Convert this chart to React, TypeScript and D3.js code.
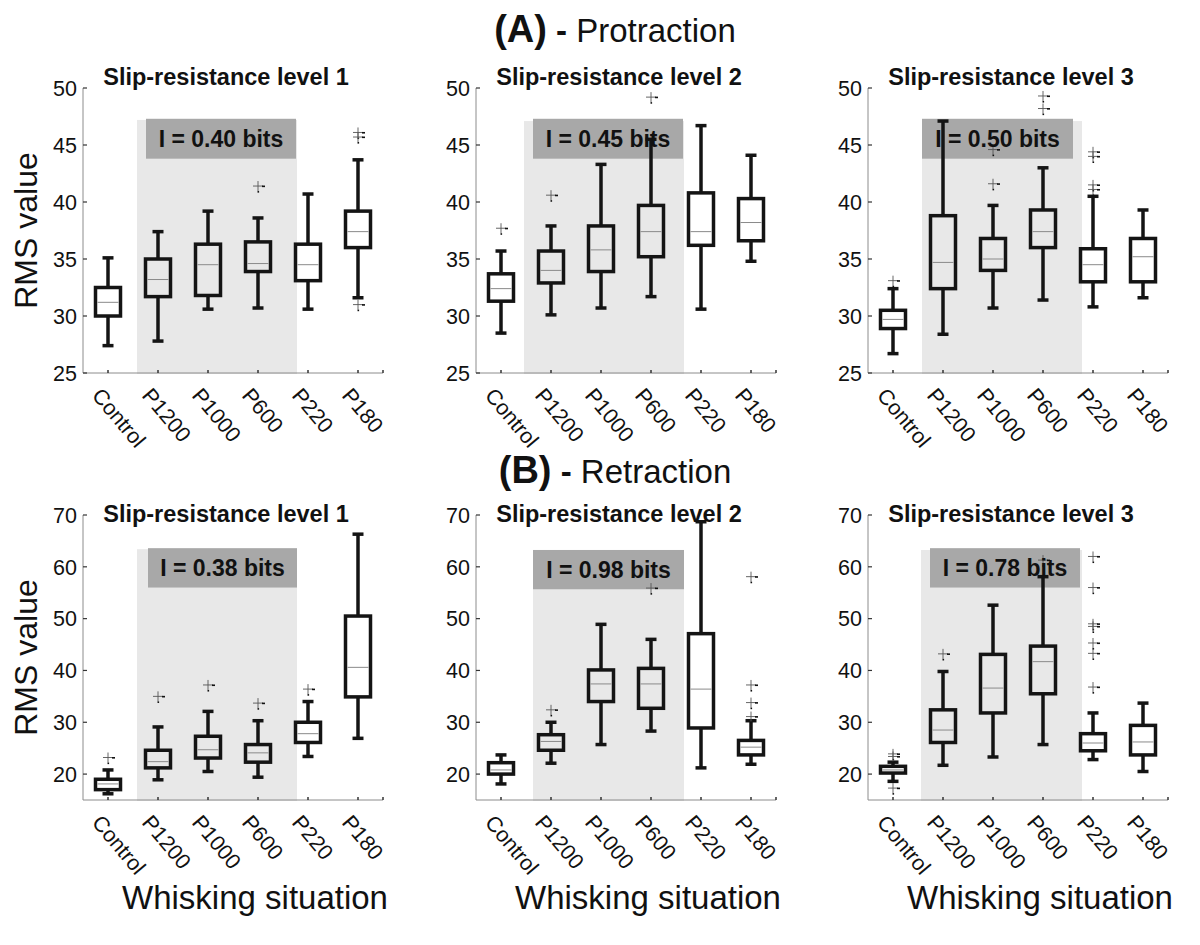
import React from "react";
import * as d3 from "d3";

// ---------- DATA ----------
const categories = ["Control", "P1200", "P1000", "P600", "P220", "P180"];
const protractionTicks = [25, 30, 35, 40, 45, 50];
const retractionTicks = [20, 30, 40, 50, 60, 70];
const panelTitles = ["Slip-resistance level 1", "Slip-resistance level 2", "Slip-resistance level 3"];

// each entry: [lower whisker, Q1, median, Q3, upper whisker]
const protractionL1 = [
  [27.4, 30.0, 31.2, 32.5, 35.1],
  [27.8, 31.7, 33.2, 35.0, 37.4],
  [30.6, 31.8, 34.5, 36.3, 39.2],
  [30.7, 33.9, 34.6, 36.5, 38.6],
  [30.6, 33.1, 34.5, 36.3, 40.7],
  [31.6, 36.0, 37.4, 39.2, 43.7],
];
const protractionL1Out = [[], [], [], [41.4], [], [46.1, 45.7, 31.0]];

const protractionL2 = [
  [28.5, 31.3, 32.4, 33.7, 35.7],
  [30.1, 32.9, 34.0, 35.7, 37.9],
  [30.7, 33.9, 35.8, 37.9, 43.3],
  [31.7, 35.2, 37.4, 39.7, 45.5],
  [30.6, 36.2, 37.4, 40.8, 46.7],
  [34.8, 36.6, 38.2, 40.3, 44.1],
];
const protractionL2Out = [[37.7], [40.6], [], [49.2], [], []];

const protractionL3 = [
  [26.7, 28.9, 29.7, 30.5, 32.4],
  [28.4, 32.4, 34.7, 38.8, 47.1],
  [30.7, 34.0, 35.0, 36.8, 39.7],
  [31.4, 36.0, 37.4, 39.3, 43.0],
  [30.8, 33.0, 34.5, 35.9, 40.5],
  [31.6, 33.0, 35.2, 36.8, 39.3],
];
const protractionL3Out = [[33.1], [], [44.6, 41.6], [49.3, 48.2], [44.4, 44.0, 41.5, 41.1], []];

const retractionL1 = [
  [16.2, 17.0, 18.1, 19.0, 20.8],
  [18.9, 21.2, 22.4, 24.6, 29.1],
  [20.5, 23.1, 24.7, 27.3, 32.1],
  [19.4, 22.3, 24.1, 25.7, 30.3],
  [23.4, 26.1, 27.8, 30.0, 34.0],
  [26.9, 34.9, 40.6, 50.5, 66.3],
];
const retractionL1Out = [[23.2], [35.0], [37.2], [33.7], [36.4], []];

const retractionL2 = [
  [18.1, 20.0, 20.8, 22.2, 23.7],
  [22.1, 24.6, 26.3, 27.6, 30.0],
  [25.7, 34.0, 37.4, 40.1, 48.9],
  [28.3, 32.7, 37.4, 40.4, 46.0],
  [21.2, 28.9, 36.4, 47.1, 68.7],
  [21.9, 23.7, 25.2, 26.5, 30.3],
];
const retractionL2Out = [[], [32.4], [], [55.9], [], [58.1, 37.2, 33.8, 31.1]];

const retractionL3 = [
  [18.6, 20.2, 20.8, 21.5, 22.3],
  [21.7, 26.1, 28.5, 32.4, 39.8],
  [23.3, 31.8, 36.6, 43.1, 52.6],
  [25.7, 35.5, 41.7, 44.7, 58.1],
  [22.8, 24.5, 26.0, 27.8, 31.8],
  [20.5, 23.7, 26.2, 29.4, 33.7],
];
const retractionL3Out = [[23.9, 23.4, 17.3], [43.2], [], [61.3], [62.0, 56.0, 49.0, 48.5, 45.3, 43.3, 36.8], []];

const protractionInfo = ["I = 0.40 bits", "I = 0.45 bits", "I = 0.50 bits"];
const retractionInfo = ["I = 0.38 bits", "I = 0.98 bits", "I = 0.78 bits"];

// shaded region (category units / value units): [xStart, xEnd, top]
const protractionShade = [[1.58, 4.78, 47.2], [1.46, 4.66, 47.1], [1.58, 4.78, 47.1]];
const retractionShade = [[1.58, 4.78, 63.4], [1.64, 4.66, 63.25], [1.56, 4.78, 63.25]];
// info box: [xStart, xEnd, top, bottom]
const protractionInfoBox = [[1.76, 4.76, 47.3, 43.8], [1.64, 4.64, 47.3, 43.8], [1.58, 4.6, 47.3, 43.8]];
const retractionInfoBox = [[1.8, 4.78, 63.6, 56.0], [1.64, 4.66, 63.25, 55.67], [1.74, 4.74, 63.6, 56.0]];

// ---------- LAYOUT ----------
const FONT = "'Liberation Sans', Arial, Helvetica, sans-serif";
const panelLefts = [83, 476, 868];
const PANEL_W = 300;

type PanelProps = {
  left: number;
  top: number;
  bottom: number;
  domain: [number, number];
  ticks: number[];
  stats: number[][];
  outliers: number[][];
  shade: number[];
  infoBox: number[];
  info: string;
  title: string;
  titleY: number;
  ylabel: boolean;
  xlabel: boolean;
};

function Panel(p: PanelProps) {
  const x = d3.scaleLinear().domain([0.5, categories.length + 0.5]).range([p.left, p.left + PANEL_W]);
  const y = d3.scaleLinear().domain(p.domain).range([p.bottom, p.top]);
  const boxW = x(1.5) - x(1);
  const capW = 11;
  const sw = 3.5;
  const dark = "#141414";
  return (
    <g>
      {/* shading */}
      <rect
        x={x(p.shade[0])}
        y={y(p.shade[2])}
        width={x(p.shade[1]) - x(p.shade[0])}
        height={y(p.domain[0]) - y(p.shade[2]) + 1}
        fill="#e8e8e8"
      />
      <rect
        x={x(p.infoBox[0])}
        y={y(p.infoBox[2])}
        width={x(p.infoBox[1]) - x(p.infoBox[0])}
        height={y(p.infoBox[3]) - y(p.infoBox[2])}
        fill="#a8a8a8"
      />
      {/* axes */}
      <line x1={p.left} x2={p.left + PANEL_W} y1={p.bottom} y2={p.bottom} stroke="#8c8c8c" strokeWidth={1} />
      <line x1={p.left} x2={p.left} y1={p.bottom} y2={p.top} stroke="#8c8c8c" strokeWidth={1} />
      {p.ticks.map((t) => (
        <g key={"yt" + t}>
          <line x1={p.left} x2={p.left + 4} y1={y(t)} y2={y(t)} stroke="#333" strokeWidth={1.2} />
          <text x={p.left - 6} y={y(t)} dy="0.36em" textAnchor="end" fontSize={21.5} fontFamily={FONT} fill="#111">
            {t}
          </text>
        </g>
      ))}
      {categories.map((c, i) => (
        <line key={"xt" + c} x1={x(i + 1)} x2={x(i + 1)} y1={p.bottom} y2={p.bottom - 3} stroke="#333" strokeWidth={1.5} />
      ))}
      <line x1={x(6.5)} x2={x(6.5)} y1={p.bottom} y2={p.bottom - 3} stroke="#333" strokeWidth={1.5} />
      {categories.map((c, i) => {
        const ax = x(i + 1) - 17;
        const ay = p.bottom + 23;
        return (
          <text
            key={"xl" + c}
            x={ax}
            y={ay}
            transform={`rotate(50 ${ax} ${ay})`}
            fontSize={21.5}
            fontFamily={FONT}
            fill="#111"
          >
            {c}
          </text>
        );
      })}
      {/* boxplots */}
      {p.stats.map((s, i) => {
        const cx = x(i + 1);
        const [lo, q1, med, q3, hi] = s;
        return (
          <g key={"b" + i}>
            <line x1={cx} x2={cx} y1={y(q3)} y2={y(hi)} stroke={dark} strokeWidth={sw} />
            <line x1={cx} x2={cx} y1={y(q1)} y2={y(lo)} stroke={dark} strokeWidth={sw} />
            <line x1={cx - capW / 2} x2={cx + capW / 2} y1={y(hi)} y2={y(hi)} stroke={dark} strokeWidth={sw} />
            <line x1={cx - capW / 2} x2={cx + capW / 2} y1={y(lo)} y2={y(lo)} stroke={dark} strokeWidth={sw} />
            <rect
              x={cx - boxW / 2}
              y={y(q3)}
              width={boxW}
              height={y(q1) - y(q3)}
              fill="none"
              stroke={dark}
              strokeWidth={sw}
            />
            <line x1={cx - boxW / 2 + 2} x2={cx + boxW / 2 - 2} y1={y(med)} y2={y(med)} stroke="#8a8a8a" strokeWidth={1} />
            {p.outliers[i].map((o, k) => (
              <g key={"o" + k}>
                <path
                  d={`M${cx - 5},${y(o)}H${cx + 5}M${cx},${y(o) - 5}V${y(o) + 5}`}
                  stroke="#555"
                  strokeWidth={0.9}
                  fill="none"
                />
                <rect x={cx + 4} y={y(o) - 0.5} width={3} height={1.6} fill="#111" />
                <rect x={cx - 0.5} y={y(o) + 5} width={1.6} height={1.6} fill="#111" />
              </g>
            ))}
          </g>
        );
      })}
      {/* info text */}
      <text
        x={(x(p.infoBox[0]) + x(p.infoBox[1])) / 2}
        y={(y(p.infoBox[2]) + y(p.infoBox[3])) / 2}
        dy="0.36em"
        textAnchor="middle"
        fontSize={23}
        fontWeight="bold"
        fontFamily={FONT}
        fill="#111"
      >
        {p.info}
      </text>
      {/* title */}
      <text x={p.left + 143} y={p.titleY} textAnchor="middle" fontSize={23.5} fontWeight="bold" fontFamily={FONT} fill="#111">
        {p.title}
      </text>
      {p.ylabel && (
        <text
          x={37}
          y={(p.top + p.bottom) / 2}
          transform={`rotate(-90 37 ${(p.top + p.bottom) / 2})`}
          textAnchor="middle"
          fontSize={32}
          fontFamily={FONT}
          fill="#111"
        >
          RMS value
        </text>
      )}
      {p.xlabel && (
        <text x={p.left + 172} y={909} textAnchor="middle" fontSize={33} fontFamily={FONT} fill="#111">
          Whisking situation
        </text>
      )}
    </g>
  );
}

export default function App() {
  const pStats = [protractionL1, protractionL2, protractionL3];
  const pOut = [protractionL1Out, protractionL2Out, protractionL3Out];
  const rStats = [retractionL1, retractionL2, retractionL3];
  const rOut = [retractionL1Out, retractionL2Out, retractionL3Out];
  return (
    <svg
      width={1200}
      height={945}
      viewBox="0 0 1200 945"
      style={{ position: "absolute", left: 0, top: 0, background: "#fff" }}
    >
      <rect x={0} y={0} width={1200} height={945} fill="#fff" />
      <text x={615} y={42} textAnchor="middle" fontFamily={FONT} fill="#111">
        <tspan fontWeight="bold" fontSize={38}>(A)</tspan>
        <tspan fontWeight="bold" fontSize={33}> - </tspan>
        <tspan fontSize={33}>Protraction</tspan>
      </text>
      <text x={615} y={483} textAnchor="middle" fontFamily={FONT} fill="#111">
        <tspan fontWeight="bold" fontSize={38}>(B)</tspan>
        <tspan fontWeight="bold" fontSize={33}> - </tspan>
        <tspan fontSize={33}>Retraction</tspan>
      </text>
      {panelLefts.map((left, i) => (
        <Panel
          key={"A" + i}
          left={left}
          top={88}
          bottom={373}
          domain={[25, 50]}
          ticks={protractionTicks}
          stats={pStats[i]}
          outliers={pOut[i]}
          shade={protractionShade[i]}
          infoBox={protractionInfoBox[i]}
          info={protractionInfo[i]}
          title={panelTitles[i]}
          titleY={85}
          ylabel={i === 0}
          xlabel={false}
        />
      ))}
      {panelLefts.map((left, i) => (
        <Panel
          key={"B" + i}
          left={left}
          top={515}
          bottom={800}
          domain={[15, 70]}
          ticks={retractionTicks}
          stats={rStats[i]}
          outliers={rOut[i]}
          shade={retractionShade[i]}
          infoBox={retractionInfoBox[i]}
          info={retractionInfo[i]}
          title={panelTitles[i]}
          titleY={522}
          ylabel={i === 0}
          xlabel={true}
        />
      ))}
    </svg>
  );
}
